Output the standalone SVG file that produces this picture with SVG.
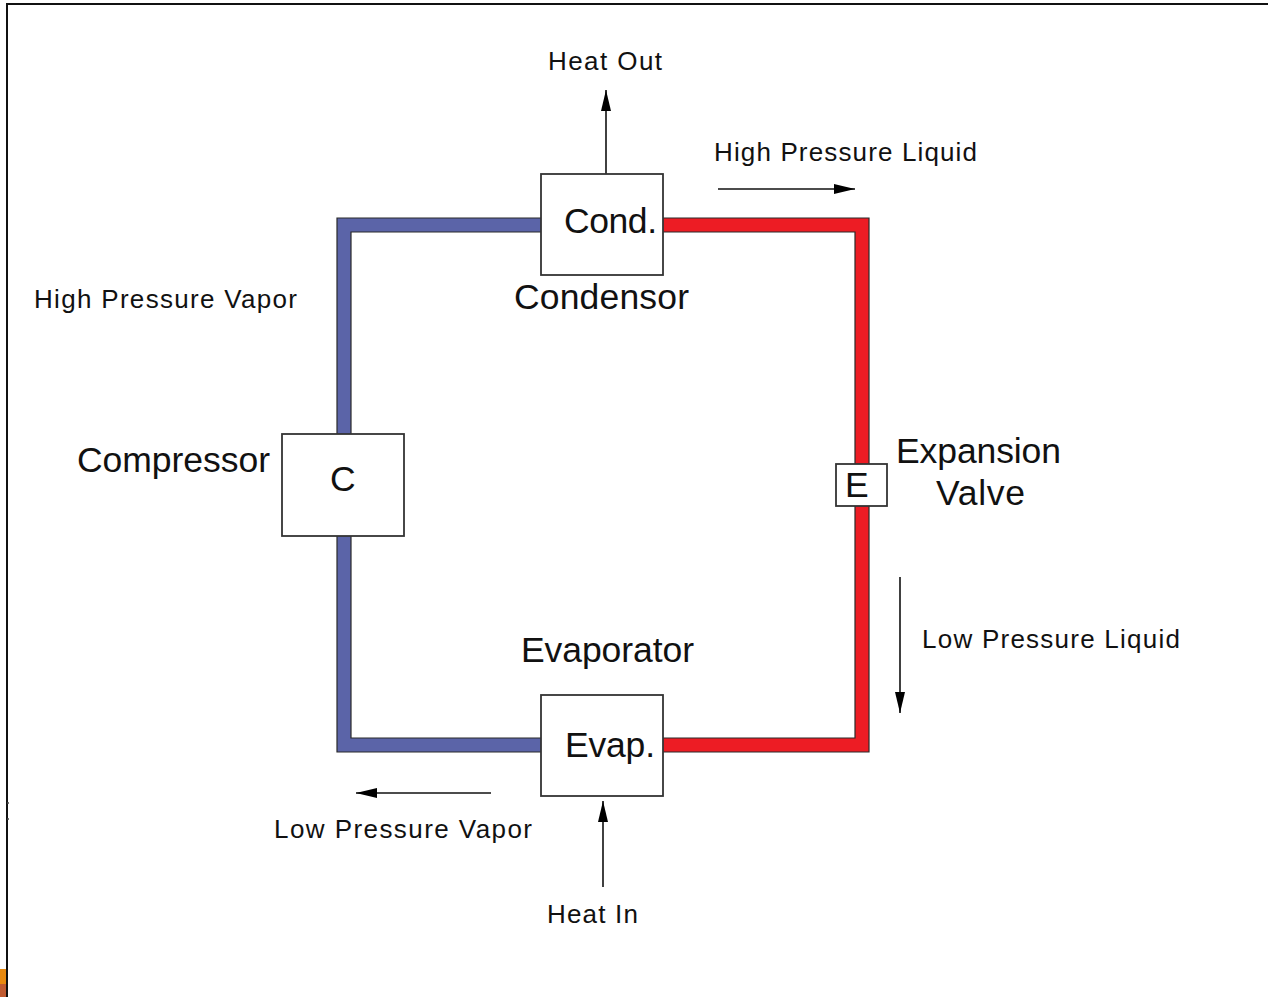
<svg xmlns="http://www.w3.org/2000/svg" width="1268" height="997" viewBox="0 0 1268 997">
<style>
text{font-family:"Liberation Sans",Arial,sans-serif;fill:#111}
.s{font-size:26px}
.l{font-size:35.5px}
.box{fill:#fff;stroke:#333;stroke-width:1.8}
.ln{fill:none;stroke:#111;stroke-width:1.6}
.edge{fill:none;stroke:#2a2a2a;stroke-width:1.2}
</style>
<defs><marker id="a" markerUnits="userSpaceOnUse" markerWidth="22" markerHeight="12" refX="21" refY="5.5" orient="auto"><path d="M0 .5L21 5.5L0 10.5Z" fill="#000"/></marker></defs>
<rect width="1268" height="997" fill="#fff"/>
<path d="M7 997V4H1268" fill="none" stroke="#111" stroke-width="2"/>
<path d="M7 803H9M7 819H9" fill="none" stroke="#444" stroke-width="1.5"/>
<rect x="0" y="969" width="6" height="15" fill="#e8890f"/>
<rect x="0" y="984" width="6" height="13" fill="#c05a30"/>
<g id="connectors">
<path d="M541 225H344V745H541" fill="none" stroke="#5b64a8" stroke-width="14"/>
<path d="M541 218H337V752H541M541 232H351V738H541" class="edge"/>
<path d="M663 225H862V745H663" fill="none" stroke="#ed1c24" stroke-width="14"/>
<path d="M663 218H869V752H663M663 232H855V738H663" class="edge"/>
<path d="M606 174V90" class="ln" marker-end="url(#a)"/>
<path d="M718 189H855" class="ln" marker-end="url(#a)"/>
<path d="M900 577V713" class="ln" marker-end="url(#a)"/>
<path d="M491 793H356" class="ln" marker-end="url(#a)"/>
<path d="M603 887V801" class="ln" marker-end="url(#a)"/>
</g>
<g id="condenser"><rect class="box" x="541" y="174" width="122" height="101"/><text class="l" x="564" y="233" textLength="93">Cond.</text><text class="l" x="514" y="309" textLength="175">Condensor</text></g>
<g id="compressor"><rect class="box" x="282" y="434" width="122" height="102"/><text class="l" x="330" y="491">C</text><text class="l" x="77" y="472" textLength="193">Compressor</text></g>
<g id="expansion"><rect class="box" x="836" y="464" width="51" height="42"/><text class="l" x="845" y="497">E</text><text class="l" x="896" y="463" textLength="165">Expansion</text><text class="l" x="936" y="505" textLength="89">Valve</text></g>
<g id="evaporator"><rect class="box" x="541" y="695" width="122" height="101"/><text class="l" x="565" y="757" textLength="90">Evap.</text><text class="l" x="521" y="662" textLength="173">Evaporator</text></g>
<g id="labels">
<text class="s" x="548" y="70" textLength="114">Heat Out</text>
<text class="s" x="714" y="161" textLength="263">High Pressure Liquid</text>
<text class="s" x="34" y="308" textLength="263">High Pressure Vapor</text>
<text class="s" x="922" y="648" textLength="258">Low Pressure Liquid</text>
<text class="s" x="274" y="838" textLength="258">Low Pressure Vapor</text>
<text class="s" x="547" y="923" textLength="91">Heat In</text>
</g>
</svg>
